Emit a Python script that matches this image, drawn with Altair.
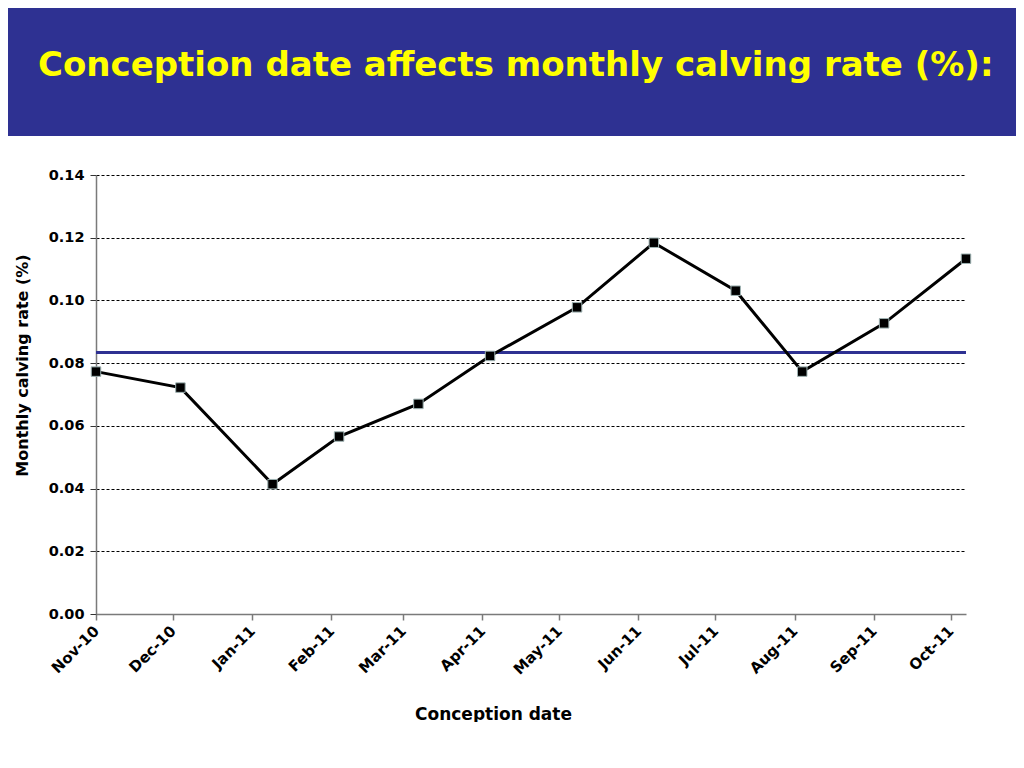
import altair as alt
import pandas as pd

# Data
conception_dates = ["2010-11-01", "2010-12-04", "2011-01-09", "2011-02-04",
                    "2011-03-07", "2011-04-04", "2011-05-08", "2011-06-07",
                    "2011-07-09", "2011-08-04", "2011-09-05", "2011-10-07"]
calving_rates = [0.0773, 0.0722, 0.0414, 0.0566, 0.0670, 0.0823,
                 0.0978, 0.1184, 0.1031, 0.0773, 0.0927, 0.1133]
average_rate = [0.0834]
y_ticks = [0.00, 0.02, 0.04, 0.06, 0.08, 0.10, 0.12, 0.14]
title_text = "Conception date affects monthly calving rate (%):"

BANNER = "#2E3192"
FONT = "DejaVu Sans"

df = pd.DataFrame({"date": conception_dates, "rate": calving_rates})
avg_df = pd.DataFrame({"avg": average_rate})
one = pd.DataFrame({"k": [0]})

x_enc = alt.X(
    "date:T",
    scale=alt.Scale(type="utc", nice=False,
                    domain=[alt.DateTime(year=2010, month=11, date=1, utc=True),
                            alt.DateTime(year=2011, month=10, date=7, utc=True)]),
    axis=alt.Axis(title="Conception date", format="%b-%y", tickCount="month",
                  labelAngle=-45, labelAlign="right", labelBaseline="middle",
                  labelPadding=8, labelFont=FONT, labelFontSize=15,
                  labelFontWeight="bold", labelColor="black",
                  titleFont=FONT, titleFontSize=17, titleFontWeight="bold",
                  titleColor="black", titleX=397, titleY=100,
                  titleAlign="center", titleBaseline="middle",
                  domainColor="#7a7a7a", domainWidth=1.5,
                  tickColor="#7a7a7a", tickSize=6, tickWidth=1.5, grid=False),
)
y_enc = alt.Y(
    "rate:Q",
    scale=alt.Scale(domain=[0, 0.14], nice=False),
    axis=alt.Axis(title="Monthly calving rate (%)", values=y_ticks, format=".2f",
                  labelFont=FONT, labelFontSize=14.5, labelFontWeight="bold",
                  labelColor="black", labelPadding=6,
                  titleFont=FONT, titleFontSize=16, titleFontWeight="bold",
                  titleColor="black", titleX=-74, titleY=190,
                  titleAlign="center", titleBaseline="middle", titleAngle=270,
                  domainColor="#7a7a7a", domainWidth=1.5,
                  tickColor="#333333", tickSize=6, tickWidth=1,
                  grid=True, gridColor="black", gridWidth=1, gridDash=[3, 2]),
)

base = alt.Chart(df)
line = base.mark_line(color="black", strokeWidth=3).encode(x=x_enc, y=y_enc)
points = base.mark_square(size=90, fill="black", stroke="#9fb3b3",
                          strokeWidth=1, opacity=1).encode(x="date:T", y="rate:Q")
avg_line = alt.Chart(avg_df).mark_rule(color=BANNER, strokeWidth=3).encode(y="avg:Q")

banner = alt.Chart(one).mark_rect(color=BANNER).encode(
    x=alt.value(-88), x2=alt.value(920), y=alt.value(-167), y2=alt.value(-39))
title = alt.Chart(one).mark_text(
    text=title_text, font=FONT, fontSize=34, fontWeight="bold", color="#FFFF00",
    align="left", baseline="alphabetic").encode(x=alt.value(-58), y=alt.value(-99))

chart = alt.layer(banner, title, avg_line, line, points).properties(
    width=870, height=439, padding=0, background="white"
).configure_view(stroke=None)

chart.save("out.html", embed_options={"renderer": "svg", "actions": False})
